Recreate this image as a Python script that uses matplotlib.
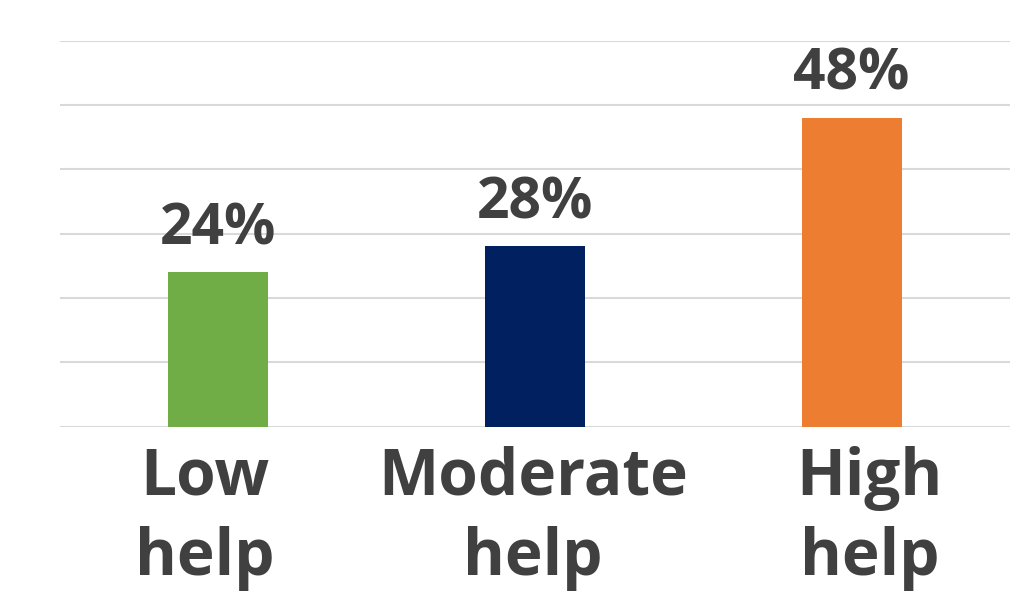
import matplotlib.pyplot as plt
from matplotlib.transforms import ScaledTranslation

# data
categories = ['Low\nhelp', 'Moderate\nhelp', 'High\nhelp']
values = [24, 28, 48]
colors = ['#70AD47', '#002060', '#ED7D31']

plt.rcParams['font.family'] = ['Open Sans', 'DejaVu Sans']
text_color = '#404040'

fig = plt.figure(figsize=(10.3, 5.94), dpi=100)
ax = fig.add_axes([60 / 1030, 1 - 426.5 / 594, 950 / 1030, 386 / 594])

x = range(len(categories))
bars = ax.bar(x, values, width=0.316, color=colors, zorder=2)

for b, v in zip(bars, values):
    ax.annotate(f'{v}%', (b.get_x() + b.get_width() / 2, v), xytext=(0, 10),
                textcoords='offset points', ha='center', va='bottom',
                fontsize=41, fontweight='bold', color=text_color)

ax.set_xlim(-0.5, 2.5)
ax.set_ylim(0, 60)
ax.set_yticks(range(0, 61, 10))
ax.yaxis.grid(True, color='#D9D9D9', linewidth=1.5, zorder=0)
ax.tick_params(axis='y', left=False, labelleft=False)
ax.tick_params(axis='x', length=0, pad=14)
ax.set_xticks(list(x))
ax.set_xticklabels(categories, fontsize=46, fontweight='bold', color=text_color,
                   linespacing=1.3)
# labels in the original sit a bit off the bar centres
shifts = [-14, -2, 18]
for lab, dx in zip(ax.get_xticklabels(), shifts):
    lab.set_transform(lab.get_transform() + ScaledTranslation(dx / 100, 0, fig.dpi_scale_trans))
for s in ax.spines.values():
    s.set_visible(False)

fig.savefig('out.png', dpi=100)
